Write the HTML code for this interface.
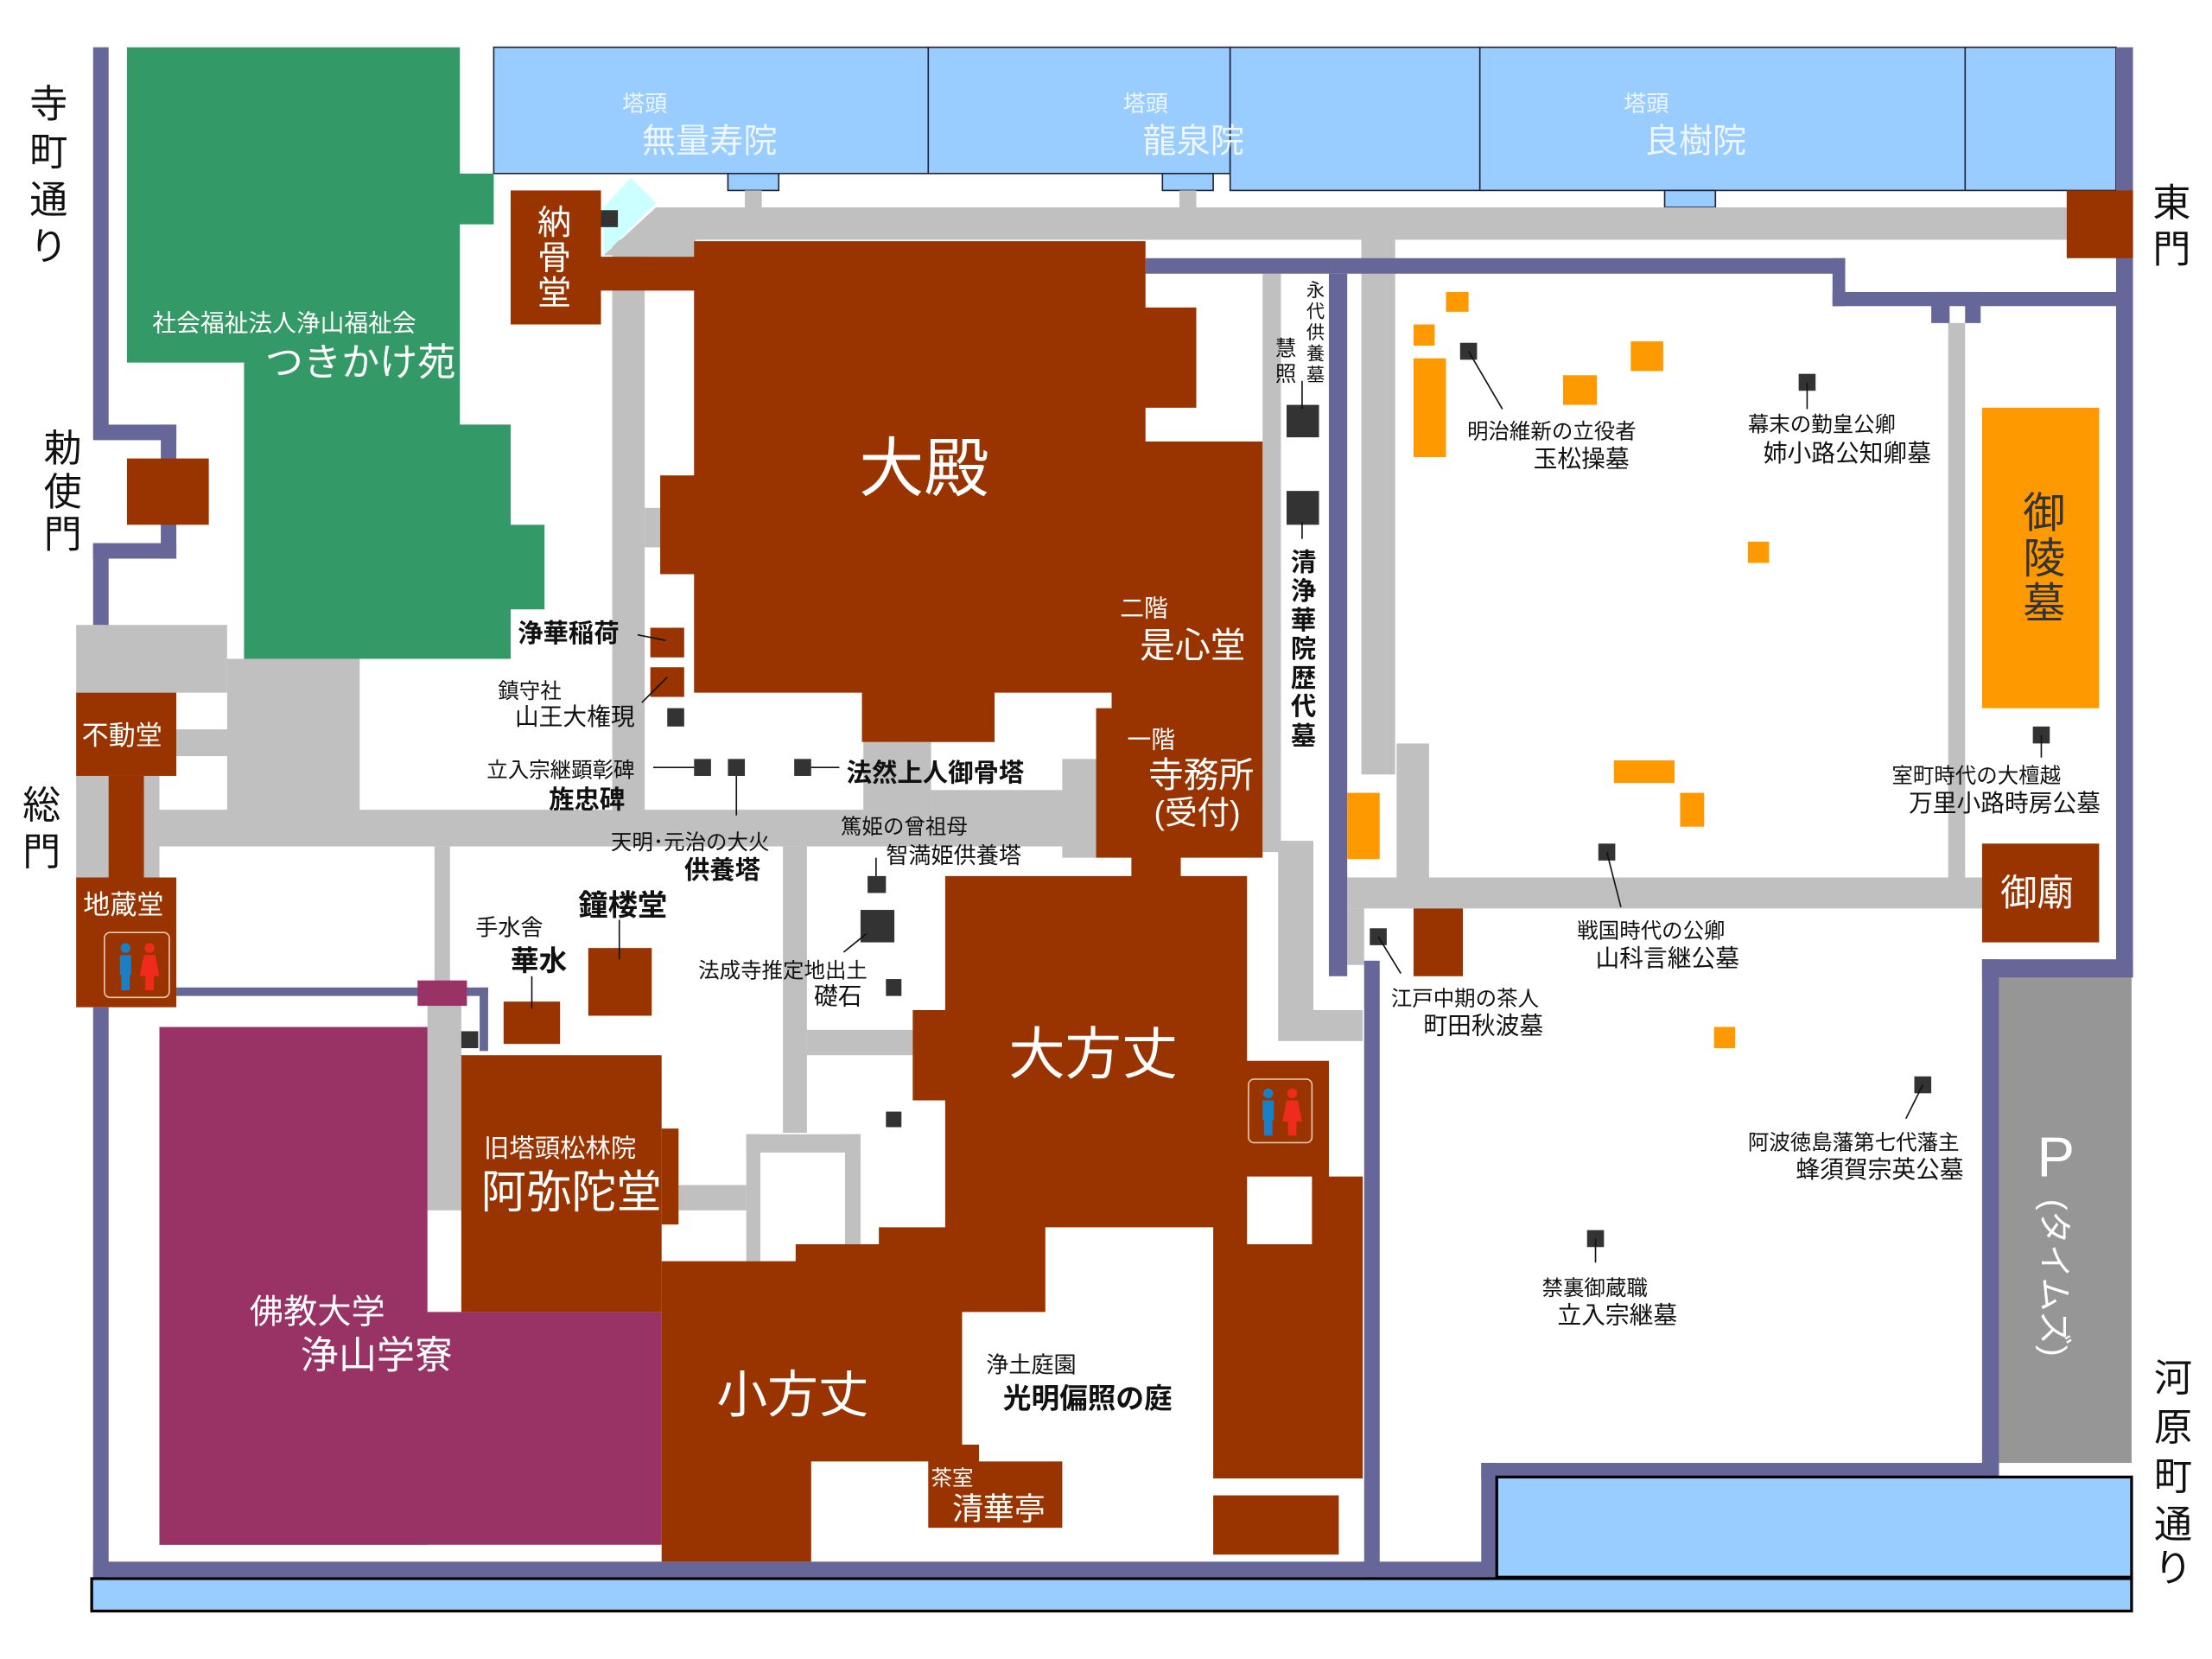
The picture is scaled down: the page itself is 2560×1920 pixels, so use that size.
<!DOCTYPE html>
<html><head><meta charset="utf-8">
<style>
html,body{margin:0;padding:0;background:#fff;}
svg{display:block;}
text{font-family:"Liberation Sans","Noto Sans CJK JP",sans-serif;}
.w{fill:#fff;}
.k{fill:#111;}
.bb{fill:#111;font-weight:bold;}
</style></head>
<body>
<svg width="2560" height="1920" viewBox="0 0 1568 1176" xmlns="http://www.w3.org/2000/svg">
<rect width="1568" height="1176" fill="#fff"/>

<!-- top blue tatchu -->
<rect x="350" y="33.5" width="522" height="89.5" fill="#99ccff" stroke="#223" stroke-width="1"/>
<rect x="872" y="33.5" width="628" height="101.5" fill="#99ccff" stroke="#223" stroke-width="1"/>
<line x1="658" y1="33.5" x2="658" y2="123" stroke="#223" stroke-width="1"/>
<line x1="1049" y1="33.5" x2="1049" y2="135" stroke="#223" stroke-width="1"/>
<line x1="1393" y1="33.5" x2="1393" y2="135" stroke="#223" stroke-width="1"/>
<rect x="516" y="123" width="36" height="12" fill="#99ccff" stroke="#223" stroke-width="1"/>
<rect x="824" y="123" width="36" height="12" fill="#99ccff" stroke="#223" stroke-width="1"/>
<rect x="1180" y="135" width="36" height="12" fill="#99ccff" stroke="#223" stroke-width="1"/>

<!-- green -->
<polygon points="90,33.5 326,33.5 326,123 350,123 350,159 326,159 326,301 362,301 362,372 386,372 386,432 362,432 362,467 173,467 173,257 90,257" fill="#339966"/>

<!-- gray paths -->
<g fill="#c0c0c0">
<rect x="528" y="135" width="12" height="14"/>
<rect x="836" y="135" width="12" height="14"/>
<polygon points="465,147 1465,147 1465,170 493,170 493,182 457,182 457,200 434,200 434,181 428,181"/>
<rect x="434" y="170" width="23" height="405"/>
<rect x="457" y="360" width="15" height="28"/>
<rect x="54" y="443" width="107" height="48"/>
<rect x="161" y="467" width="94" height="108"/>
<rect x="125" y="517" width="40" height="19"/>
<rect x="54" y="550" width="59" height="72"/>
<rect x="102" y="574" width="676" height="26"/>
<rect x="612" y="526" width="48" height="48"/>
<rect x="753" y="538" width="25" height="70"/>
<rect x="660" y="560" width="95" height="20"/>
<rect x="308" y="600" width="11" height="100"/>
<rect x="303" y="700" width="24" height="158"/>
<rect x="555" y="600" width="17" height="203"/>
<rect x="572" y="730" width="75" height="18"/>
<rect x="529" y="804" width="81" height="13"/>
<rect x="529" y="804" width="10" height="90"/>
<rect x="599" y="804" width="11" height="78"/>
<rect x="481" y="840" width="48" height="18"/>
<rect x="895" y="194" width="13" height="410"/>
<rect x="906" y="596" width="25" height="142"/>
<rect x="931" y="716" width="35" height="22"/>
<rect x="965" y="163" width="24" height="386"/>
<rect x="990" y="527" width="23" height="95"/>
<rect x="955" y="622" width="450" height="22"/>
<rect x="1381" y="229" width="12" height="393"/>
<rect x="955" y="644" width="12" height="40"/>
</g>
<!-- cyan diamond -->
<polygon points="447,126 465,144 428,181 428,147" fill="#ccffff"/>

<!-- purple boundaries -->
<g fill="#666699">
<rect x="66" y="33.5" width="11" height="268"/>
<rect x="66" y="301" width="59" height="11"/>
<rect x="114" y="301" width="11" height="95"/>
<rect x="66" y="385" width="59" height="11"/>
<rect x="66" y="385" width="11" height="58"/>
<rect x="66" y="714" width="11" height="404"/>
<rect x="66" y="1107" width="995" height="11"/>
<rect x="125" y="700" width="221" height="6"/>
<rect x="340" y="700" width="6" height="45"/>
<rect x="1500" y="33.5" width="12" height="658"/>
<rect x="1405" y="680" width="107" height="13"/>
<rect x="1405" y="680" width="12" height="368"/>
<rect x="1050" y="1037" width="367" height="11"/>
<rect x="1050" y="1037" width="11" height="81"/>
<rect x="812" y="183" width="496" height="11"/>
<rect x="1299" y="183" width="9" height="34"/>
<rect x="1299" y="207" width="201" height="10"/>
<rect x="1369" y="207" width="35" height="22"/>
<rect x="942" y="194" width="13" height="498"/>
<rect x="967" y="681" width="11" height="437"/>
</g>
<rect x="1382" y="217" width="11" height="12" fill="#fff"/>

<!-- P parking -->
<rect x="1417" y="693" width="94" height="344" fill="#969696"/>
<!-- bottom blue -->
<rect x="1061" y="1047" width="450" height="71" fill="#99ccff" stroke="#000" stroke-width="2"/>
<rect x="65" y="1119" width="1446" height="23" fill="#99ccff" stroke="#000" stroke-width="2"/>

<!-- magenta school -->
<rect x="113" y="728" width="190" height="367" fill="#993366"/>
<rect x="113" y="930" width="356" height="165" fill="#993366"/>
<rect x="296" y="695" width="35" height="18" fill="#993366"/>

<!-- brown buildings -->
<g fill="#993300">
<rect x="90" y="325" width="58" height="47"/>
<rect x="54" y="491" width="71" height="59"/>
<rect x="77" y="550" width="25" height="72"/>
<rect x="54" y="622" width="71" height="92"/>
<rect x="362" y="135" width="64" height="95"/>
<rect x="426" y="182" width="67" height="24"/>
<polygon points="492,171 812,171 812,218 848,218 848,289 812,289 812,313 895,313 895,608 777,608 777,502 788,502 788,491 705,491 705,526 611,526 611,491 492,491"/>
<rect x="468" y="337" width="25" height="70"/>
<rect x="461" y="445" width="24" height="21"/>
<rect x="461" y="473" width="24" height="21"/>
<rect x="802" y="600" width="35" height="22"/>
<polygon points="670,621 884,621 884,752 942,752 942,834 966,834 966,1048 860,1048 860,870 741,870 741,930 682,930 682,1024 694,1024 694,1036 753,1036 753,1083 658,1083 658,1036 575,1036 575,1107 469,1107 469,894 564,894 564,882 623,882 623,870 670,870 670,780 647,780 647,716 670,716"/>
<rect x="860" y="1060" width="89" height="42"/>
<rect x="327" y="748" width="142" height="182"/>
<rect x="469" y="800" width="12" height="68"/>
<rect x="357" y="710" width="40" height="30"/>
<rect x="417" y="672" width="45" height="48"/>
<rect x="1002" y="644" width="35" height="48"/>
<rect x="1405" y="598" width="83" height="70"/>
<rect x="1465" y="135" width="47" height="48"/>
</g>
<rect x="884" y="834" width="46" height="48" fill="#fff"/>

<!-- orange -->
<g fill="#ff9900">
<rect x="1405" y="289" width="83" height="213"/>
<rect x="1025" y="207" width="16" height="14"/>
<rect x="1002" y="230" width="15" height="15"/>
<rect x="1002" y="254" width="23" height="70"/>
<rect x="1108" y="266" width="24" height="21"/>
<rect x="1156" y="242" width="23" height="21"/>
<rect x="1239" y="384" width="15" height="15"/>
<rect x="1144" y="539" width="43" height="16"/>
<rect x="1191" y="562" width="17" height="24"/>
<rect x="955" y="562" width="23" height="47"/>
<rect x="1215" y="728" width="15" height="15"/>
</g>

<!-- black markers -->
<g fill="#333">
<rect x="426" y="149" width="12" height="12"/>
<rect x="473" y="502" width="12" height="13"/>
<rect x="492" y="538" width="12" height="12"/>
<rect x="516" y="538" width="12" height="12"/>
<rect x="563" y="538" width="12" height="12"/>
<rect x="615" y="621" width="13" height="12"/>
<rect x="610" y="645" width="24" height="23"/>
<rect x="628" y="694" width="11" height="12"/>
<rect x="628" y="788" width="11" height="11"/>
<rect x="327" y="731" width="12" height="12"/>
<rect x="912" y="287" width="23" height="23"/>
<rect x="912" y="348" width="23" height="24"/>
<rect x="1035" y="243" width="12" height="12"/>
<rect x="1275" y="265" width="12" height="12"/>
<rect x="1441" y="515" width="12" height="12"/>
<rect x="1133" y="598" width="12" height="12"/>
<rect x="971" y="658" width="12" height="12"/>
<rect x="1357" y="763" width="12" height="12"/>
<rect x="1125" y="872" width="12" height="12"/>
</g>
<!-- leader lines -->
<g stroke="#111" stroke-width="1">
<line x1="1041" y1="249" x2="1065" y2="290"/>
<line x1="1281" y1="271" x2="1281" y2="290"/>
<line x1="1447" y1="521" x2="1447" y2="537"/>
<line x1="1139" y1="604" x2="1149" y2="643"/>
<line x1="977" y1="664" x2="993" y2="690"/>
<line x1="1363" y1="769" x2="1351" y2="793"/>
<line x1="1131" y1="878" x2="1131" y2="895"/>
<line x1="923" y1="270" x2="923" y2="290"/>
<line x1="923" y1="370" x2="923" y2="382"/>
<line x1="452" y1="450" x2="472" y2="454"/>
<line x1="455" y1="498" x2="473" y2="480"/>
<line x1="463" y1="544" x2="492" y2="544"/>
<line x1="522" y1="550" x2="522" y2="578"/>
<line x1="575" y1="544" x2="595" y2="544"/>
<line x1="621" y1="608" x2="621" y2="621"/>
<line x1="598" y1="675" x2="614" y2="662"/>
<line x1="377" y1="692" x2="377" y2="715"/>
<line x1="439" y1="652" x2="439" y2="680"/>
</g>

<!-- toilet icons -->
<g>
<rect x="74" y="661" width="46" height="46" rx="4" fill="none" stroke="#e6c9b0" stroke-width="1"/>
<circle cx="89" cy="672" r="3.5" fill="#1a7fc4"/><rect x="85" y="677" width="8" height="14" fill="#1a7fc4"/><rect x="86" y="690" width="6" height="12" fill="#1a7fc4"/>
<circle cx="106" cy="672" r="3.5" fill="#ee2b1c"/><polygon points="102,677 110,677 113,692 99,692" fill="#ee2b1c"/><rect x="103" y="690" width="6" height="12" fill="#ee2b1c"/>
<rect x="885" y="765" width="45" height="45" rx="4" fill="none" stroke="#e6c9b0" stroke-width="1"/>
<circle cx="899" cy="775" r="3.5" fill="#1a7fc4"/><rect x="895" y="780" width="8" height="14" fill="#1a7fc4"/><rect x="896" y="793" width="6" height="12" fill="#1a7fc4"/>
<circle cx="916" cy="775" r="3.5" fill="#ee2b1c"/><polygon points="912,780 920,780 923,795 909,795" fill="#ee2b1c"/><rect x="913" y="793" width="6" height="12" fill="#ee2b1c"/>
</g>

<!-- white labels -->
<g class="w" fill="#f0f6ff">
<text x="441" y="79" font-size="16" fill="#eef6ff">塔頭</text>
<text x="455" y="108" font-size="24" fill="#eef6ff">無量寿院</text>
<text x="796" y="79" font-size="16" fill="#eef6ff">塔頭</text>
<text x="810" y="108" font-size="24" fill="#eef6ff">龍泉院</text>
<text x="1151" y="79" font-size="16" fill="#eef6ff">塔頭</text>
<text x="1166" y="108" font-size="24" fill="#eef6ff">良樹院</text>
</g>
<text x="108" y="235" font-size="17" fill="#fff">社会福祉法人浄山福祉会</text>
<text x="188" y="266" font-size="27" fill="#fff">つきかけ苑</text>
<text font-size="24" fill="#fff"><tspan x="381" y="166">納</tspan><tspan x="381" y="191">骨</tspan><tspan x="381" y="216">堂</tspan></text>
<text x="609" y="348" font-size="46" fill="#fff">大殿</text>
<text x="794" y="437" font-size="17" fill="#fff">二階</text>
<text x="808" y="466" font-size="25" fill="#fff">是心堂</text>
<text x="799" y="530" font-size="17" fill="#fff">一階</text>
<text x="814" y="558" font-size="25" fill="#fff">寺務所</text>
<text x="818" y="584" font-size="23" fill="#fff">(受付)</text>
<text x="715" y="761" font-size="40" fill="#fff">大方丈</text>
<text x="508" y="1001" font-size="36" fill="#fff">小方丈</text>
<text x="660" y="1053" font-size="15" fill="#fff">茶室</text>
<text x="675" y="1077" font-size="22" fill="#fff">清華亭</text>
<text x="343" y="820" font-size="18" fill="#fff">旧塔頭松林院</text>
<text x="341" y="856" font-size="32" fill="#fff">阿弥陀堂</text>
<text x="177" y="938" font-size="24" fill="#fff">佛教大学</text>
<text x="213" y="970" font-size="27" fill="#fff">浄山学寮</text>
<text x="58" y="528" font-size="19" fill="#fff">不動堂</text>
<text x="59" y="648" font-size="19" fill="#fff">地蔵堂</text>
<text x="1418" y="642" font-size="26" fill="#fff">御廟</text>
<text x="1444" y="834" font-size="40" fill="#fff">P</text>
<text font-size="24" fill="#fff" transform="translate(1448,850) rotate(90)">(タイムズ)</text>
<text font-size="30" fill="#333"><tspan x="1434" y="374">御</tspan><tspan x="1434" y="406">陵</tspan><tspan x="1434" y="438">墓</tspan></text>

<!-- black labels -->
<g font-size="16" fill="#111">
<text x="367" y="455" class="bb" font-size="18">浄華稲荷</text>
<text x="353" y="495" font-size="15">鎮守社</text>
<text x="365" y="514" font-size="17">山王大権現</text>
<text x="345" y="551" font-size="15">立入宗継顕彰碑</text>
<text x="389" y="573" class="bb" font-size="18">旌忠碑</text>
<text x="600" y="554" class="bb" font-size="18">法然上人御骨塔</text>
<text x="433" y="602" font-size="15">天明･元治の大火</text>
<text x="485" y="623" class="bb" font-size="18">供養塔</text>
<text x="596" y="591" font-size="15">篤姫の曾祖母</text>
<text x="628" y="612" font-size="16">智満姫供養塔</text>
<text x="410" y="649" class="bb" font-size="21">鐘楼堂</text>
<text x="337" y="663" font-size="16">手水舎</text>
<text x="362" y="688" class="bb" font-size="20">華水</text>
<text x="495" y="693" font-size="15">法成寺推定地出土</text>
<text x="577" y="712" font-size="17">礎石</text>
<text x="699" y="973" font-size="16">浄土庭園</text>
<text x="711" y="998" class="bb" font-size="20">光明偏照の庭</text>
<text x="1040" y="311" font-size="15">明治維新の立役者</text>
<text x="1087" y="331" font-size="17">玉松操墓</text>
<text x="1239" y="306" font-size="15">幕末の勤皇公卿</text>
<text x="1250" y="327" font-size="17">姉小路公知卿墓</text>
<text x="1341" y="555" font-size="15">室町時代の大檀越</text>
<text x="1353" y="575" font-size="17">万里小路時房公墓</text>
<text x="1118" y="665" font-size="15">戦国時代の公卿</text>
<text x="1131" y="685" font-size="17">山科言継公墓</text>
<text x="986" y="713" font-size="15">江戸中期の茶人</text>
<text x="1009" y="733" font-size="17">町田秋波墓</text>
<text x="1239" y="815" font-size="15">阿波徳島藩第七代藩主</text>
<text x="1273" y="835" font-size="17">蜂須賀宗英公墓</text>
<text x="1093" y="918" font-size="15">禁裏御蔵職</text>
<text x="1104" y="938" font-size="17">立入宗継墓</text>
</g>
<!-- vertical small labels -->
<text font-size="13" fill="#111"><tspan x="926" y="210">永</tspan><tspan x="926" y="225">代</tspan><tspan x="926" y="240">供</tspan><tspan x="926" y="255">養</tspan><tspan x="926" y="270">墓</tspan></text>
<text font-size="15" fill="#111"><tspan x="904" y="252">慧</tspan><tspan x="904" y="270">照</tspan></text>
<text font-size="18" fill="#111" font-weight="bold"><tspan x="915" y="405">清</tspan><tspan x="915" y="425">浄</tspan><tspan x="915" y="446">華</tspan><tspan x="915" y="466">院</tspan><tspan x="915" y="487">歴</tspan><tspan x="915" y="507">代</tspan><tspan x="915" y="528">墓</tspan></text>

<!-- road / gate labels -->
<g font-size="27" fill="#111">
<text><tspan x="21" y="83">寺</tspan><tspan x="21" y="117">町</tspan><tspan x="21" y="151">通</tspan><tspan x="21" y="184">り</tspan></text>
<text><tspan x="31" y="327">勅</tspan><tspan x="31" y="358">使</tspan><tspan x="31" y="388">門</tspan></text>
<text><tspan x="16" y="580">総</tspan><tspan x="16" y="613">門</tspan></text>
<text><tspan x="1526" y="153">東</tspan><tspan x="1526" y="186">門</tspan></text>
<text><tspan x="1527" y="986">河</tspan><tspan x="1527" y="1021">原</tspan><tspan x="1527" y="1056">町</tspan><tspan x="1527" y="1090">通</tspan><tspan x="1527" y="1121">り</tspan></text>
</g>
</svg>
</body></html>
